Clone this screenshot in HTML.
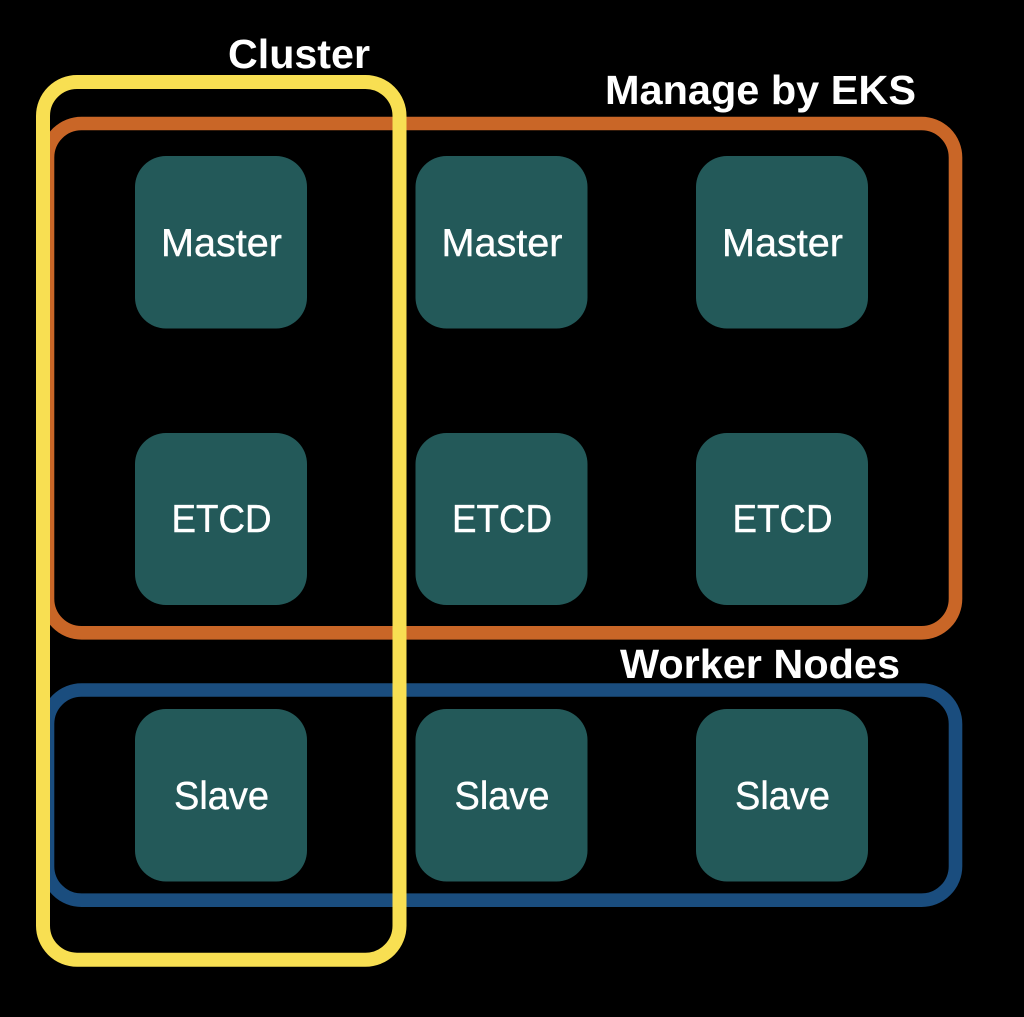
<!DOCTYPE html>
<html>
<head>
<meta charset="utf-8">
<style>
html,body{margin:0;padding:0;background:#000;width:1024px;height:1017px;overflow:hidden}
svg{display:block}
text{font-family:"Liberation Sans",Arial,sans-serif;fill:#fff}
.n{font-size:38.5px;text-anchor:middle;stroke:#fff;stroke-width:.4px}
.b{font-size:40.5px;font-weight:bold}
rect.t{fill:#235959}
</style>
</head>
<body>
<svg width="1024" height="1017" viewBox="0 0 1024 1017" xmlns="http://www.w3.org/2000/svg">
<rect width="1024" height="1017" fill="#000"/>

<rect class="t" x="135" y="156" width="172" height="172.500" rx="31"/>
<rect class="t" x="415.500" y="156" width="172" height="172.500" rx="31"/>
<rect class="t" x="696" y="156" width="172" height="172.500" rx="31"/>
<rect class="t" x="135" y="433" width="172" height="172" rx="31"/>
<rect class="t" x="415.500" y="433" width="172" height="172" rx="31"/>
<rect class="t" x="696" y="433" width="172" height="172" rx="31"/>
<rect class="t" x="135" y="709" width="172" height="172.500" rx="31"/>
<rect class="t" x="415.500" y="709" width="172" height="172.500" rx="31"/>
<rect class="t" x="696" y="709" width="172" height="172.500" rx="31"/>

<text class="n" x="221.500" y="256" textLength="121" lengthAdjust="spacingAndGlyphs">Master</text>
<text class="n" x="502" y="256" textLength="121" lengthAdjust="spacingAndGlyphs">Master</text>
<text class="n" x="782.500" y="256" textLength="121" lengthAdjust="spacingAndGlyphs">Master</text>
<text class="n" x="221.500" y="532" textLength="100" lengthAdjust="spacingAndGlyphs">ETCD</text>
<text class="n" x="502" y="532" textLength="100" lengthAdjust="spacingAndGlyphs">ETCD</text>
<text class="n" x="782.500" y="532" textLength="100" lengthAdjust="spacingAndGlyphs">ETCD</text>
<text class="n" x="221.500" y="809" textLength="95" lengthAdjust="spacingAndGlyphs">Slave</text>
<text class="n" x="502" y="809" textLength="95" lengthAdjust="spacingAndGlyphs">Slave</text>
<text class="n" x="782.500" y="809" textLength="95" lengthAdjust="spacingAndGlyphs">Slave</text>

<rect x="47.500" y="123.500" width="908" height="509.300" rx="34" fill="none" stroke="#c96627" stroke-width="13.600"/>
<rect x="47.500" y="690" width="908" height="210.200" rx="34" fill="none" stroke="#1a4d7e" stroke-width="13.600"/>
<rect x="43" y="82" width="356.500" height="877.700" rx="34" fill="none" stroke="#f8df52" stroke-width="14"/>

<text class="b" x="228" y="68" textLength="142" lengthAdjust="spacingAndGlyphs">Cluster</text>
<text class="b" x="605" y="104" textLength="311" lengthAdjust="spacingAndGlyphs">Manage by EKS</text>
<text class="b" x="620" y="678" textLength="280" lengthAdjust="spacingAndGlyphs">Worker Nodes</text>
</svg>
</body>
</html>
